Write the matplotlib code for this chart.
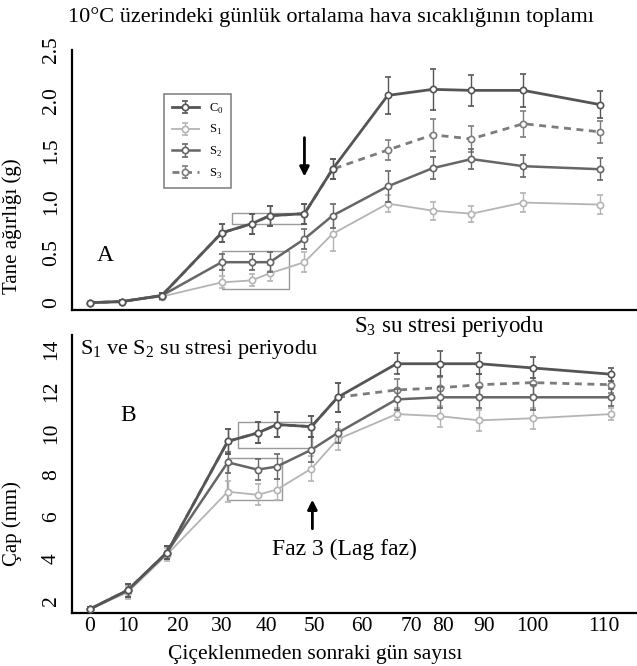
import matplotlib
matplotlib.use("Agg")
import matplotlib.pyplot as plt
from matplotlib.patches import Rectangle

plt.rcParams['font.family'] = ['Liberation Serif', 'DejaVu Serif']
plt.rcParams['mathtext.fontset'] = 'custom'
plt.rcParams['mathtext.rm'] = 'Liberation Serif'

# --- A: tane ağırlığı (g) ---
days_a = [0, 6.8, 15.4, 28.2, 34.6, 38.5, 45.9, 51.9, 63.7, 73.3, 81.6, 92.7, 109]
c0_a = [0.0, 0.01, 0.07, 0.69, 0.78, 0.86, 0.88, 1.32, 2.05, 2.11, 2.10, 2.10, 1.96]
s3_a = [0.0, 0.01, 0.07, 0.69, 0.78, 0.86, 0.88, 1.32, 1.51, 1.66, 1.62, 1.77, 1.69]
s2_a = [0.0, 0.01, 0.07, 0.40, 0.40, 0.40, 0.63, 0.86, 1.15, 1.33, 1.42, 1.35, 1.32]
s1_a = [0.0, 0.01, 0.06, 0.20, 0.22, 0.29, 0.40, 0.68, 0.98, 0.91, 0.88, 0.99, 0.97]
err_c0_a = [0.0, 0.02, 0.03, 0.09, 0.10, 0.10, 0.10, 0.10, 0.18, 0.20, 0.15, 0.16, 0.13]
err_s3_a = [0.0, 0.02, 0.03, 0.09, 0.10, 0.10, 0.10, 0.10, 0.10, 0.16, 0.13, 0.13, 0.11]
err_s2_a = [0.0, 0.02, 0.03, 0.08, 0.08, 0.10, 0.10, 0.12, 0.15, 0.11, 0.10, 0.11, 0.11]
err_s1_a = [0.0, 0.02, 0.03, 0.06, 0.06, 0.08, 0.10, 0.17, 0.08, 0.09, 0.08, 0.09, 0.09]

# --- B: çap (mm) ---
days_b = [0, 8.1, 16.5, 29.5, 35.9, 40.0, 47.4, 53.0, 65.6, 74.8, 83.3, 94.7, 111.5]
c0_b = [1.6, 2.5, 4.3, 9.6, 10.0, 10.4, 10.3, 11.7, 13.3, 13.3, 13.3, 13.1, 12.8]
s3_b = [1.6, 2.5, 4.3, 9.6, 10.0, 10.4, 10.3, 11.7, 12.05, 12.15, 12.3, 12.4, 12.3]
s2_b = [1.6, 2.5, 4.3, 8.6, 8.25, 8.4, 9.2, 10.0, 11.6, 11.7, 11.7, 11.7, 11.7]
s1_b = [1.6, 2.4, 4.2, 7.2, 7.05, 7.3, 8.3, 9.7, 10.9, 10.8, 10.6, 10.7, 10.9]
err_c0_b = [0.1, 0.3, 0.3, 0.6, 0.5, 0.6, 0.5, 0.7, 0.5, 0.6, 0.5, 0.5, 0.3]
err_s3_b = [0.1, 0.3, 0.3, 0.6, 0.5, 0.6, 0.5, 0.7, 0.5, 0.5, 0.5, 0.6, 0.4]
err_s2_b = [0.1, 0.3, 0.3, 0.5, 0.5, 0.6, 0.6, 0.5, 0.5, 0.5, 0.5, 0.6, 0.4]
err_s1_b = [0.1, 0.3, 0.3, 0.5, 0.5, 0.5, 0.6, 0.5, 0.3, 0.5, 0.5, 0.5, 0.3]

series_names = ['C$_0$', 'S$_1$', 'S$_2$', 'S$_3$']
xtick_labels = ['0', '10', '20', '30', '40', '50', '60', '70', '80', '90', '100', '110']
xtick_pos = [0, 8.1, 18.8, 28.2, 37.8, 48.1, 58.1, 68.8, 75.6, 84.4, 94.7, 110]

# stress-period frames (day0, day1, y0, y1)
boxes_a = [(30.5, 45.9, 0.78, 0.89), (28.2, 42.7, 0.13, 0.51)]
boxes_b = [(31.6, 47.6, 9.3, 10.5), (29.3, 41.0, 6.8, 8.8)]

fig = plt.figure(figsize=(6.37, 6.66), dpi=100)
ax_a = fig.add_axes([0.113, 0.535, 0.887, 0.39])
ax_b = fig.add_axes([0.113, 0.080, 0.887, 0.417])


def draw_series(ax, days, vals, errs, color, lw, ls, label, z):
    ax.errorbar(days, vals, yerr=errs, color=color, lw=lw, ls=ls,
                marker='o', ms=4.5, mfc='white', mec=color, mew=1.2,
                ecolor=color, elinewidth=1.0, capsize=2.5, capthick=1.0,
                label=label, zorder=z)


def style_axis(ax, ylim, yticks, yticklabels, ylabel):
    ax.set_xlim(-3.8, 117)
    ax.set_ylim(*ylim)
    for s in ['top', 'right']:
        ax.spines[s].set_visible(False)
    for s in ['left', 'bottom']:
        ax.spines[s].set_linewidth(1.6)
    ax.set_yticks(yticks)
    ax.set_yticklabels(yticklabels, rotation=90, va='center', fontsize=15.5)
    ax.tick_params(length=0, pad=8)
    ax.set_ylabel(ylabel, fontsize=15)
    ax.yaxis.set_label_coords(-0.088, 0.32)


for ax, days, data, errs, boxes in [
        (ax_a, days_a, [c0_a, s1_a, s2_a, s3_a], [err_c0_a, err_s1_a, err_s2_a, err_s3_a], boxes_a),
        (ax_b, days_b, [c0_b, s1_b, s2_b, s3_b], [err_c0_b, err_s1_b, err_s2_b, err_s3_b], boxes_b)]:
    draw_series(ax, days, data[3], errs[3], '#7c7c7c', 2.0, (0, (2.5, 2)), series_names[3], 2)
    draw_series(ax, days, data[1], errs[1], '#b4b4b4', 1.3, '-', series_names[1], 2)
    draw_series(ax, days, data[2], errs[2], '#666666', 1.8, '-', series_names[2], 3)
    draw_series(ax, days, data[0], errs[0], '#555555', 2.0, '-', series_names[0], 4)
    for d0, d1, y0, y1 in boxes:
        ax.add_patch(Rectangle((d0, y0), d1 - d0, y1 - y0, fill=False,
                               ec='#9a9a9a', lw=1.0, zorder=1))

style_axis(ax_a, (-0.07, 2.47), [0, 0.5, 1.0, 1.5, 2.0, 2.5],
           ['0', '0.5', '1.0', '1.5', '2.0', '2.5'], 'Tane ağırlığı (g)')
ax_a.set_xticks([])

style_axis(ax_b, (1.43, 14.67), [2, 4, 6, 8, 10, 12, 14],
           ['2', '4', '6', '8', '10', '12', '14'], 'Çap (mm)')
ax_b.set_xticks(xtick_pos)
ax_b.set_xticklabels(xtick_labels, fontsize=15.5)
ax_b.tick_params(axis='x', pad=3)
ax_b.set_xlabel('Çiçeklenmeden sonraki gün sayısı', fontsize=15.5)
ax_b.xaxis.set_label_coords(0.43, -0.115)

# legend
handles, labels = ax_a.get_legend_handles_labels()
order = [labels.index(n) for n in series_names]
leg = ax_a.legend([handles[i] for i in order], [labels[i] for i in order],
                  loc='upper left', bbox_to_anchor=(0.152, 0.854), fontsize=9,
                  frameon=True, fancybox=False, edgecolor='#666666',
                  handlelength=2.2, labelspacing=0.6, borderpad=0.6)
leg.get_frame().set_linewidth(1.2)

# annotations
fig.text(0.52, 0.974, '10°C üzerindeki günlük ortalama hava sıcaklığının toplamı',
         ha='center', va='center', fontsize=16)
ax_a.text(0.044, 0.21, 'A', transform=ax_a.transAxes, fontsize=17, va='center')
ax_a.annotate('', xy=(45.9, 1.22), xytext=(45.9, 1.66),
              arrowprops=dict(arrowstyle='-|>', color='black', lw=2, mutation_scale=14))

ax_b.text(0.014, 0.946, r'$\mathregular{S_1}$ ve $\mathregular{S_2}$ su stresi periyodu',
          transform=ax_b.transAxes, fontsize=16, va='center')
ax_b.text(0.50, 1.03, r'$\mathregular{S_3}$ su stresi periyodu',
          transform=ax_b.transAxes, fontsize=16.5, va='center')
ax_b.text(0.085, 0.71, 'B', transform=ax_b.transAxes, fontsize=17, va='center')
ax_b.annotate('', xy=(47.6, 6.95), xytext=(47.6, 5.3),
              arrowprops=dict(arrowstyle='-|>', color='black', lw=2, mutation_scale=14))
ax_b.text(54.5, 4.43, 'Faz 3 (Lag faz)', fontsize=17, ha='center', va='center')

fig.savefig('out.png', dpi=100)
